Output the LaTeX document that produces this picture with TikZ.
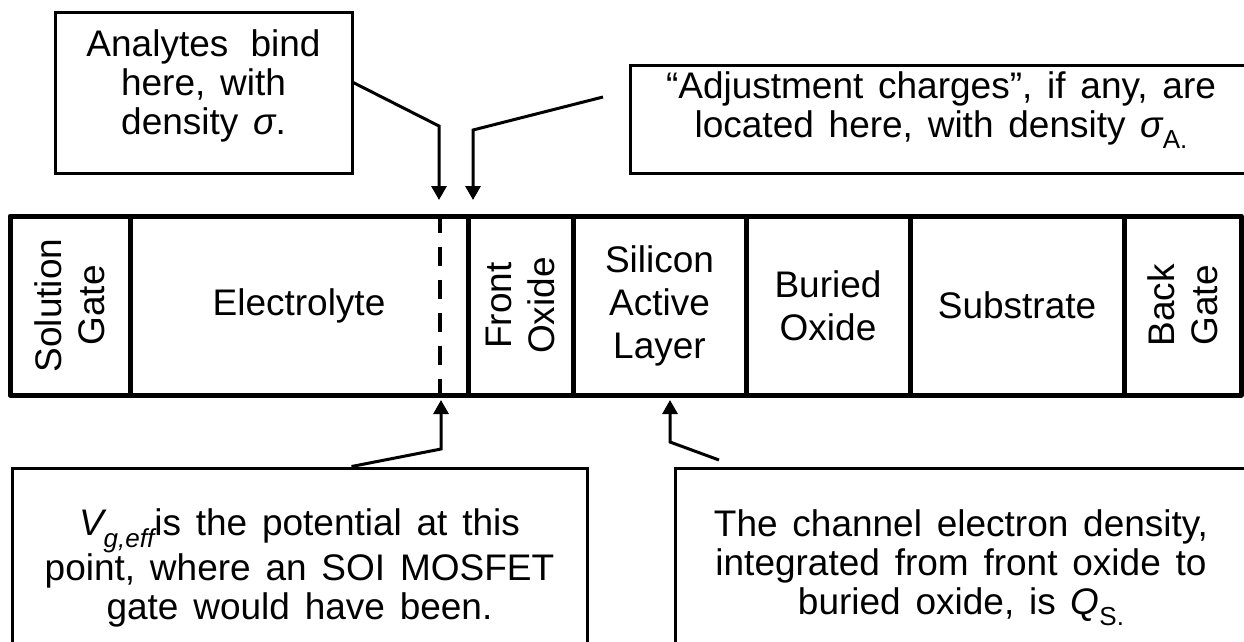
\documentclass[tikz,border=0pt]{standalone}
\usepackage{fontspec}
\setmainfont{Liberation Sans}
\usetikzlibrary{calc,positioning,arrows.meta}
\newcommand{\notefont}{\fontsize{37}{39}\selectfont\spaceskip=0.4em plus 0.1em\relax}
\newcommand{\lowsub}[1]{\raisebox{-0.3em}{\fontsize{26}{26}\selectfont #1}}
\tikzstyle{layer} = [draw=black, line width=5pt, line join=round, inner sep=0pt, align=center, font=\fontsize{37}{43}\selectfont]
\tikzstyle{note} = [draw=black, line width=3pt, inner sep=0pt]
\tikzstyle{notetext} = [inner sep=0pt, align=center, font=\notefont]
\tikzstyle{pointer} = [line width=3pt,->,>={Triangle[length=14pt,width=15pt]}]

\begin{document}
\begin{tikzpicture}[x=1pt,y=-1pt]
			\useasboundingbox (0,0) rectangle (1244,641);
			\clip (0,0) rectangle (1244,641);
			% the layer stack
			\node[layer, rotate=90, minimum width=179pt, minimum height=120pt] (sgate) at (70,305.5) {Solution\\Gate};
			\node[layer, minimum width=338pt, minimum height=179pt] (elec) at (299,305.5) {Electrolyte};
			\node[layer, rotate=90, minimum width=179pt, minimum height=105pt] (fox) at (520.5,305.5) {Front\\Oxide};
			\node[layer, minimum width=173pt, minimum height=179pt] (sil) at (659.5,305.5) {Silicon\\Active\\Layer};
			\node[layer, minimum width=164pt, minimum height=179pt] (box) at (828,305.5) {Buried\\Oxide};
			\node[layer, minimum width=214pt, minimum height=179pt] (sub) at (1017,305.5) {Substrate};
			\node[layer, rotate=90, minimum width=179pt, minimum height=117pt] (bgate) at (1182.5,305.5) {Back\\Gate};
			\coordinate (gateplane) at (440,305.5);
			\draw[line width=4pt, dash pattern=on 19pt off 14pt] (elec.north -| gateplane) -- (elec.south -| gateplane);

			% notes
			\node[note, minimum width=297pt, minimum height=161pt] (bindnote) at (203.5,92.5) {};
			\node[notetext] (bindtext) at ([yshift=7pt]bindnote.center) {Analytes\hspace{0.2em} bind\\here, with\\density {\itshape σ}.};
			\node[note, minimum width=622pt, minimum height=108pt] (adjnote) at (941,119) {};
			\node[notetext] (adjtext) at ([yshift=9pt]adjnote.center) {“Adjustment charges”, if any, are\\located here, with density {\itshape σ}\lowsub{A.}};
			\node[note, minimum width=575pt, minimum height=198pt] (vgnote) at (299.5,567) {};
			\node[notetext] (vgtext) at ([yshift=-1pt]vgnote.center) {{\itshape V}\lowsub{\itshape g,eff}is the potential at this\\point, where an SOI MOSFET\\gate would have been.};
			\node[note, minimum width=572pt, minimum height=198pt] (qsnote) at (961,567) {};
			\node[notetext] (qstext) at ([yshift=-1pt]qsnote.center) {The channel electron density,\\integrated from front oxide to\\buried oxide, is {\itshape Q}\lowsub{S.}};

			% pointers
			\coordinate (bindbend) at (439,126);
			\coordinate (bindtip) at (439,200);
			\coordinate (adjtail) at (603,97);
			\coordinate (adjbend) at (473,130);
			\coordinate (adjtip) at (473,200);
			\coordinate (vgbend) at (441,449);
			\coordinate (vgtip) at (441,400);
			\coordinate (qstail) at (719,460);
			\coordinate (qsbend) at (670,442);
			\coordinate (qstip) at (670,400);
			\draw[pointer] ($(bindnote.north east)!0.44!(bindnote.south east)$) -- (bindbend) -- (bindtip);
			\draw[pointer] (adjtail) -- (adjbend) -- (adjtip);
			\draw[pointer] ($(vgnote.north west)!0.59!(vgnote.north east)$) -- (vgbend) -- (vgtip);
			\draw[pointer] (qstail) -- (qsbend) -- (qstip);
		\end{tikzpicture}
\end{document}
